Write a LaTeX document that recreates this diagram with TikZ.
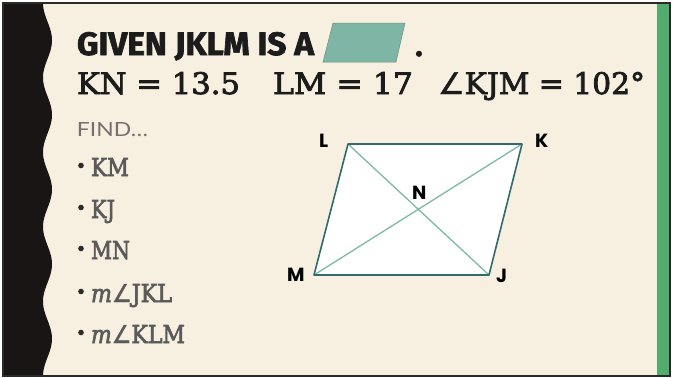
\documentclass[tikz,border=0pt]{standalone}
\usepackage{fontspec}
\usepackage{graphicx}
\setmainfont{DejaVu Serif}
\newfontfamily\heavyserif{DejaVu Serif}[FakeBold=2.6]
\newfontfamily\titlefont{Fira Sans}[FakeBold=2]
\newfontfamily\labfont{Poppins}
\newfontfamily\findfont{Lato}
\newfontfamily\angfont{DejaVu Sans}[FakeBold=1.5]
\definecolor{cream}{HTML}{F7EFDF}
\definecolor{strip}{HTML}{181514}
\definecolor{framec}{HTML}{2A2A2A}
\definecolor{greenbar}{HTML}{52AC6E}
\definecolor{edgec}{HTML}{2F6A6E}
\definecolor{diagc}{HTML}{7DB8A8}
\definecolor{iconc}{HTML}{7FB5A5}
\definecolor{inkc}{HTML}{1C1C1C}
\definecolor{grayc}{HTML}{5A5A5A}
\definecolor{findc}{HTML}{727272}
\newcommand{\fitto}[3]{\resizebox{#1pt}{#2pt}{#3}}
\begin{document}
\begin{tikzpicture}[x=1pt,y=-1pt,
  txt/.style={anchor=base west, inner sep=0pt, outer sep=0pt},
  vlabel/.style={anchor=base west, inner sep=0pt, font=\labfont\bfseries\fontsize{19}{19}\selectfont, text=black},
  sideline/.style={draw=edgec, line width=1.6pt, line join=round},
  diagline/.style={draw=diagc, line width=1.3pt},
  bulletdot/.style={fill=framec}]
\useasboundingbox (0,0) rectangle (673,378);
\fill[white] (0,0) rectangle (673,378);
\fill[cream] (3,3) rectangle (671,376);
\fill[strip] (3,3) -- plot[domain=3:376, samples=240, variable=\t] ({47.5-4.5*cos((\t-3)*4.8257)},\t) -- (3,376) -- cycle;
\fill[greenbar] (657,3) rectangle (669,376);
\draw[framec, line width=2pt] (3,3) rectangle (670,376);

% title
\node[txt, text=inkc] (title) at (77,55) {\fitto{237}{23}{\titlefont\bfseries GIVEN JKLM IS A}};
\filldraw[fill=iconc, draw=iconc!80!black, line width=0.5pt] (323,62) -- (333,23) -- (405,23) -- (396,62) -- cycle;
\node[anchor=base, inner sep=0pt, text=inkc, font=\titlefont\bfseries\fontsize{30}{30}\selectfont] (dot) at (419,56) {.};

% given values
\node[txt, text=inkc] (kn) at (77,94) {\fitto{163}{22}{\heavyserif KN = 13.5}};
\node[txt, text=inkc] (lm) at (273,94) {\fitto{140}{22}{\heavyserif LM = 17}};
\node[txt, text=inkc] (kjm) at (438,94) {\fitto{207}{22}{{\angfont ∠}\heavyserif KJM = 102°}};

% find list
\node[txt, text=findc] (find) at (77,136) {\fitto{71}{14}{\findfont FIND…}};
\node[txt, text=grayc] (b1) at (91,176) {\fitto{38}{18}{\heavyserif KM}};
\node[txt, text=grayc] (b2) at (91,218) {\fitto{24}{18}{\heavyserif KJ}};
\node[txt, text=grayc] (b3) at (91,259) {\fitto{39}{18}{\heavyserif MN}};
\node[txt, text=grayc] (b4) at (91,302) {\fitto{81}{18}{{\heavyserif\itshape m}{\angfont ∠}\heavyserif JKL}};
\node[txt, text=grayc] (b5) at (91,343) {\fitto{94}{18}{{\heavyserif\itshape m}{\angfont ∠}\heavyserif KLM}};
\foreach \yy in {176,218,259,302,343} \fill[bulletdot] (81,\yy-10.5) circle (2.8);

% parallelogram
\coordinate (L) at (348,144);
\coordinate (K) at (522,144);
\coordinate (J) at (489,275);
\coordinate (M) at (314,275);
\fill[white] (L) -- (K) -- (J) -- (M) -- cycle;
\draw[diagline] (L) -- (J);
\draw[diagline] (K) -- (M);
\draw[sideline] (L) -- (K) -- (J) -- (M) -- cycle;
\node[vlabel] (lL) at (319,147) {L};
\node[vlabel] (lK) at (535,147) {K};
\node[vlabel] (lN) at (412,199) {N};
\node[vlabel] (lM) at (287,281) {M};
\node[vlabel] (lJ) at (496,282) {J};
\end{tikzpicture}
\end{document}
